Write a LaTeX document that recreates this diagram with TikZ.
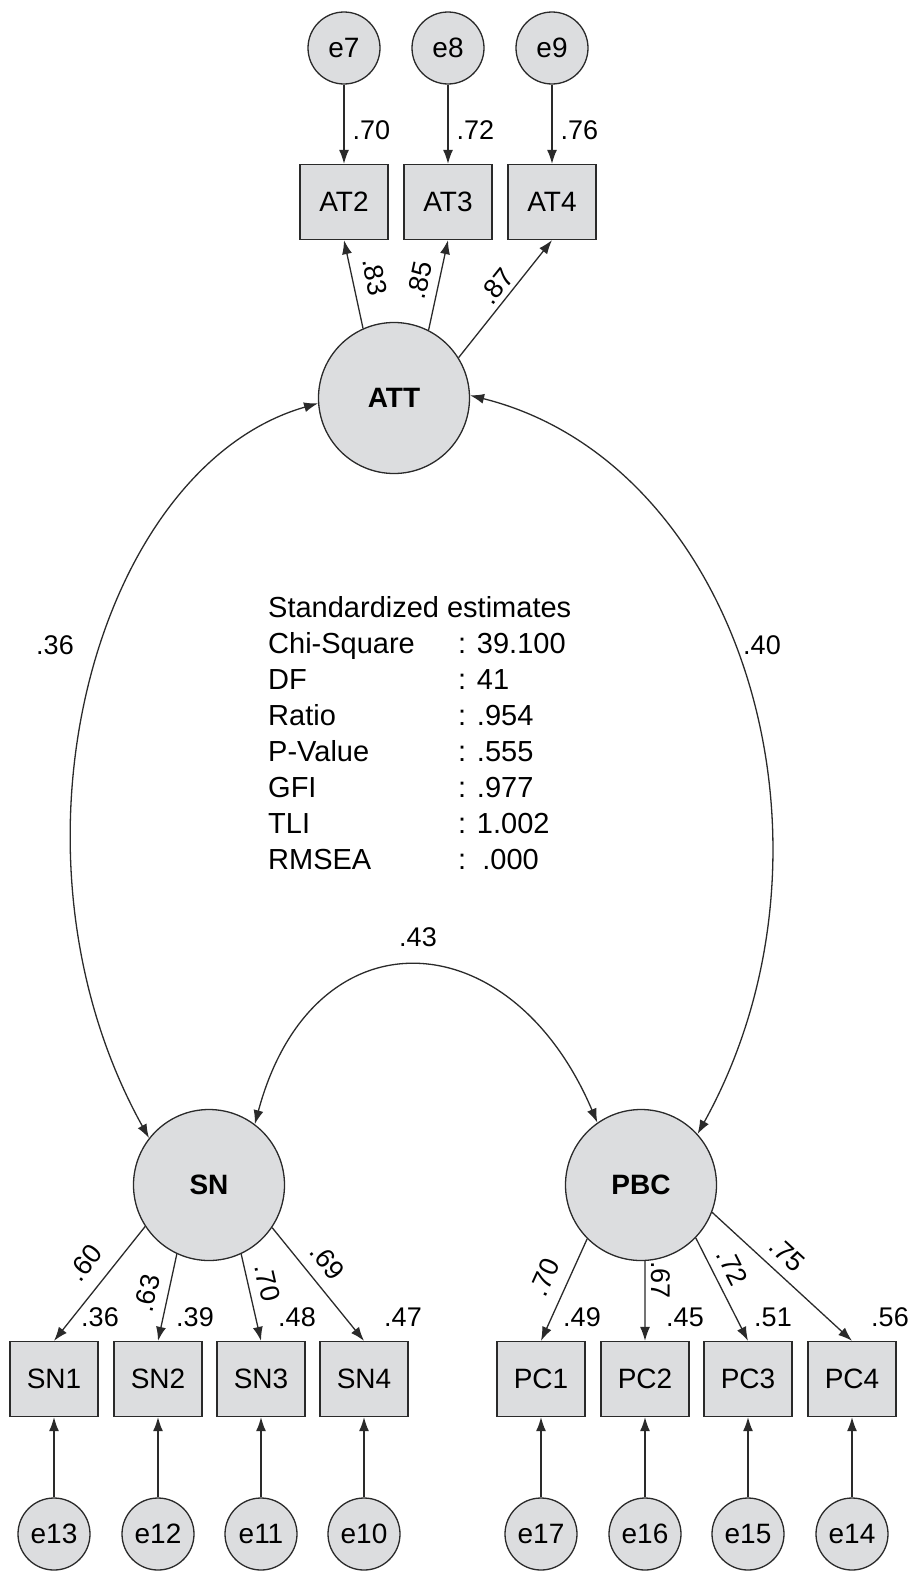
\documentclass[tikz,border=0pt]{standalone}
\usepackage{fontspec}
\setmainfont{Liberation Sans}
\usetikzlibrary{arrows.meta}

\definecolor{boxgray}{HTML}{DCDDDF}
\definecolor{linegray}{HTML}{2A2A2A}

\tikzset{
  latent/.style={circle, draw=linegray, fill=boxgray, line width=1.3pt,
    minimum size=151pt, inner sep=0pt, font=\fontsize{28}{30}\selectfont\bfseries},
  observed/.style={rectangle, draw=linegray, fill=boxgray, line width=1.3pt,
    minimum width=88pt, minimum height=75pt, inner sep=0pt,
    font=\fontsize{28}{30}\selectfont},
  errterm/.style={circle, draw=linegray, fill=boxgray, line width=1.3pt,
    minimum size=72pt, inner sep=0pt, font=\fontsize{28}{30}\selectfont},
  regpath/.style={draw=linegray, line width=1.3pt, -{Latex[length=14pt,width=10pt]}},
  covpath/.style={draw=linegray, line width=1.3pt,
    {Latex[length=14pt,width=10pt]}-{Latex[length=14pt,width=10pt]}},
  coef/.style={inner sep=2pt, font=\fontsize{27}{29}\selectfont},
  stat/.style={anchor=base west, inner sep=0pt, font=\fontsize{29}{31}\selectfont},
}

\begin{document}
\begin{tikzpicture}[x=1pt,y=1pt]
\useasboundingbox (0,0) rectangle (915,-1574);

% latent factors
\node[latent] (ATT) at (394,-398) {ATT};
\node[latent] (SN) at (209,-1185) {SN};
\node[latent] (PBC) at (641,-1185) {PBC};

% attitude indicators with their errors
\foreach \b/\e/\x/\v in {AT2/e7/344/.70, AT3/e8/448/.72, AT4/e9/552/.76} {
  \node[observed] (\b) at (\x,-202) {\b};
  \node[errterm] (\e) at (\x,-48) {\e};
  \draw[regpath] (\e) -- node[coef, right=6pt, pos=0.57] (v\b) {\v} (\b);
}

% SN and PBC indicators, errors below
\foreach \b/\e/\x/\r/\lx in {SN1/e13/54/.36/100, SN2/e12/158/.39/195,
    SN3/e11/261/.48/297, SN4/e10/364/.47/403, PC1/e17/541/.49/582,
    PC2/e16/645/.45/685, PC3/e15/748/.51/773, PC4/e14/852/.56/890} {
  \node[observed] (\b) at (\x,-1379) {\b};
  \node[errterm] (\e) at (\x,-1534) {\e};
  \draw[regpath] (\e) -- (\b);
  \node[coef] (r\b) at (\lx,-1317) {\r};
}

% loadings (anchor angle / label pos / label offset)
\foreach \b/\a/\p/\o/\v in {AT2/114/0.53/10.5/.83, AT3/63/0.51/7/.85, AT4/32/0.53/2.5/.87}
  \draw[regpath] (ATT.\a) -- node[coef, sloped, above=\o pt, pos=\p] (l\b) {\v} (\b.south);
\foreach \b/\a/\p/\o/\v in {SN1/213/0.45/12.5/.60, SN2/245/0.5/8.5/.63,
    SN3/295/0.38/7/.70, SN4/326/0.42/9.5/.69}
  \draw[regpath] (SN.\a) -- node[coef, sloped, above=\o pt, pos=\p] (l\b) {\v} (\b.north);
\foreach \b/\a/\p/\o/\v in {PC1/225/0.47/11/.70, PC2/273/0.24/3.5/.67,
    PC3/316/0.37/7.5/.72, PC4/339/0.44/8/.75}
  \draw[regpath] (PBC.\a) -- node[coef, sloped, above=\o pt, pos=\p] (l\b) {\v} (\b.north);

% correlations between the factors
\draw[covpath] (ATT.184) .. controls +(196:230) and +(119:330) .. (SN.142);
\draw[covpath] (ATT.2) .. controls +(-14:280) and +(61:330) .. (PBC.42);
\draw[covpath] (SN.53) .. controls +(75:222) and +(113:222) .. (PBC.125);
\node[coef] (cAS) at (55,-645) {.36};
\node[coef] (cAP) at (762,-645) {.40};
\node[coef] (cSP) at (418,-937) {.43};

% fit summary
\node[stat] (hd) at (268,-617) {Standardized estimates};
\foreach \k/\v [count=\i] in {Chi-Square/: 39.100, DF/: 41, Ratio/: .954,
    P-Value/: .555, GFI/: .977, TLI/: 1.002, RMSEA/:\ \ .000} {
  \node[stat] (k\i) at (268,{-617-36*\i}) {\k};
  \node[stat] (s\i) at (458,{-617-36*\i}) {\v};
}
\end{tikzpicture}
\end{document}
